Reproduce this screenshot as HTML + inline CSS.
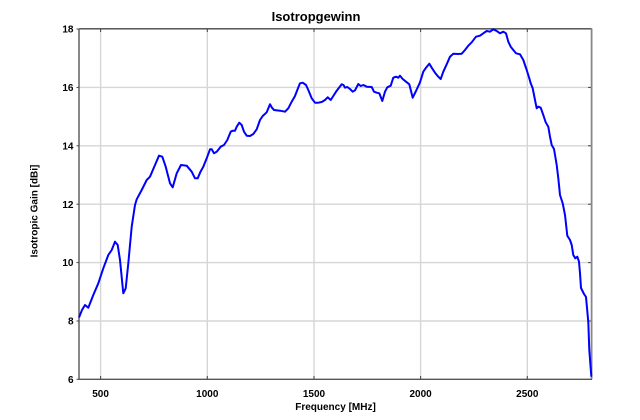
<!DOCTYPE html>
<html><head><meta charset="utf-8"><style>
html,body{margin:0;padding:0;background:#fff;}
svg{display:block;}
text{font-family:"Liberation Sans",Arial,sans-serif;font-weight:bold;fill:#000;}
</style></head><body>
<svg width="640" height="420" viewBox="0 0 640 420" xmlns="http://www.w3.org/2000/svg">
<rect width="640" height="420" fill="#fff"/>
<g stroke="#d6d6d6" stroke-width="1.4">
<line x1="100.6" y1="29" x2="100.6" y2="379.3"/>
<line x1="207.3" y1="29" x2="207.3" y2="379.3"/>
<line x1="314" y1="29" x2="314" y2="379.3"/>
<line x1="420.6" y1="29" x2="420.6" y2="379.3"/>
<line x1="527.3" y1="29" x2="527.3" y2="379.3"/>
<line x1="79.3" y1="87.4" x2="591.3" y2="87.4"/>
<line x1="79.3" y1="145.8" x2="591.3" y2="145.8"/>
<line x1="79.3" y1="204.2" x2="591.3" y2="204.2"/>
<line x1="79.3" y1="262.6" x2="591.3" y2="262.6"/>
<line x1="79.3" y1="321" x2="591.3" y2="321"/>
</g>
<g stroke="#444" stroke-width="1">
<line x1="100.6" y1="376" x2="100.6" y2="379.3"/>
<line x1="207.3" y1="376" x2="207.3" y2="379.3"/>
<line x1="314" y1="376" x2="314" y2="379.3"/>
<line x1="420.6" y1="376" x2="420.6" y2="379.3"/>
<line x1="527.3" y1="376" x2="527.3" y2="379.3"/>
<line x1="100.6" y1="29" x2="100.6" y2="32"/>
<line x1="207.3" y1="29" x2="207.3" y2="32"/>
<line x1="314" y1="29" x2="314" y2="32"/>
<line x1="420.6" y1="29" x2="420.6" y2="32"/>
<line x1="527.3" y1="29" x2="527.3" y2="32"/>
<line x1="76.5" y1="29" x2="79.3" y2="29"/>
<line x1="76.5" y1="87.4" x2="79.3" y2="87.4"/>
<line x1="76.5" y1="145.8" x2="79.3" y2="145.8"/>
<line x1="76.5" y1="204.2" x2="79.3" y2="204.2"/>
<line x1="76.5" y1="262.6" x2="79.3" y2="262.6"/>
<line x1="76.5" y1="321" x2="79.3" y2="321"/>
<line x1="76.5" y1="379.3" x2="79.3" y2="379.3"/>
<line x1="588" y1="87.4" x2="591.3" y2="87.4"/>
<line x1="588" y1="145.8" x2="591.3" y2="145.8"/>
<line x1="588" y1="204.2" x2="591.3" y2="204.2"/>
<line x1="588" y1="262.6" x2="591.3" y2="262.6"/>
<line x1="588" y1="321" x2="591.3" y2="321"/>
</g>
<line x1="79.3" y1="28.8" x2="592" y2="28.8" stroke="#444" stroke-width="1.4"/>
<line x1="591.6" y1="28.5" x2="591.6" y2="379.3" stroke="#888" stroke-width="1.8"/>
<line x1="79" y1="28.5" x2="79" y2="380" stroke="#555" stroke-width="1.4"/>
<line x1="78.5" y1="379.3" x2="592" y2="379.3" stroke="#555" stroke-width="1.4"/>
<polyline fill="none" stroke="#0000ff" stroke-width="2" stroke-linejoin="round" stroke-linecap="round" points="
79.3,316.7 82,310 85,305 88.3,307.7 93.3,295 98.3,283.3 103.3,268.3 108.3,255 111.7,250 115,241.7 117.7,245 120,260 123.3,293.3 125.7,288.3 128.3,263.3 131.7,226.7 135,205 136.7,199.3 141.7,190 146.7,180 150,176.7 155,165 159,155.7 162.3,156.7 165.7,166.7 170,183.3 172.7,187.3 176.7,173.3 181,165 186.7,165.7 191.7,171.7 195,178.3 197.7,178.3 200.5,171.7 203.3,166.7 206.7,158.3 210,149.3 211.7,149.3 214,153.3 216.7,151.7 220.7,146.7 224,145 227.3,140 230.7,131.7 232.7,130.7 235,130.7 236.7,126.7 239.3,122.7 241.7,125 244,131.7 246.7,135.7 250,136 253.3,134 256.7,129.3 260,120 262.7,116 266.7,112.3 270,104.3 271.7,107.3 274,110 280,110.7 285,111.7 288.3,108.3 291.7,101.7 295,96 297.3,90 300,83.3 302.7,82.7 306,85 308.3,90 311.7,98.3 315,102.7 318.3,102.7 321.7,102 325,100 327.7,97.3 330.7,100 333.3,96 336.7,90.7 341.7,84.3 343.5,85 345,87.7 347.3,87 350,89 352.7,91.7 355,90.3 358.3,84 360.7,86 363.3,85 366.7,86.7 371.7,87 374,91.7 376.7,92.7 379.3,93.3 382.3,101 385,91.7 387.3,87.3 390.7,85.7 393.3,77.7 396,76.7 398.3,77.7 400,75.7 402.7,79 406,81.7 409.3,84.3 412.7,97.7 416,91 420,82.3 423.3,71.7 426,67.7 429.3,63.7 431.7,67.7 435,72.7 438.3,76.7 440.7,79 443.3,71.7 446.7,64.3 450,56.7 453.3,53.7 458.3,54 461.7,53.7 465,50 468.3,45.7 471.7,42.3 476,36.7 480,35.7 483.3,33.3 486.7,31 490,31.7 493.3,29.3 496.7,31 500,33.3 503.3,31.7 506,33.3 508.3,41.7 510.7,46.7 513.3,50 516,53.3 520,54.3 523.3,60 526.7,70 529.3,78.3 530.7,83.3 532.7,88.3 535,100 536.7,108.3 538.3,106.7 540.7,107.7 543.3,115 545.7,122.3 548.3,126.7 550,136.7 551.7,145 554,149 556.7,165 558.3,178.3 560,195 562.7,203.3 565,215 567.3,235.7 570,240 571.7,245 573.3,255 575.3,258.3 577.3,256.7 579,261.7 580,273.3 581,288 584,294 586,297 588.3,322 589.3,350 591.3,376"/>
<text x="316" y="21" font-size="13" text-anchor="middle">Isotropgewinn</text>
<g font-size="10" text-anchor="end">
<text x="73.5" y="32.6">18</text>
<text x="73.5" y="91">16</text>
<text x="73.5" y="149.4">14</text>
<text x="73.5" y="207.8">12</text>
<text x="73.5" y="266.2">10</text>
<text x="73.5" y="324.6">8</text>
<text x="73.5" y="383">6</text>
</g>
<g font-size="10" text-anchor="middle">
<text x="100.6" y="397">500</text>
<text x="207.3" y="397">1000</text>
<text x="314" y="397">1500</text>
<text x="420.6" y="397">2000</text>
<text x="527.3" y="397">2500</text>
</g>
<text x="335.5" y="410" font-size="10" text-anchor="middle">Frequency [MHz]</text>
<text transform="translate(37.5,211) rotate(-90)" font-size="10" text-anchor="middle">Isotropic Gain [dBi]</text>
</svg>
</body></html>
